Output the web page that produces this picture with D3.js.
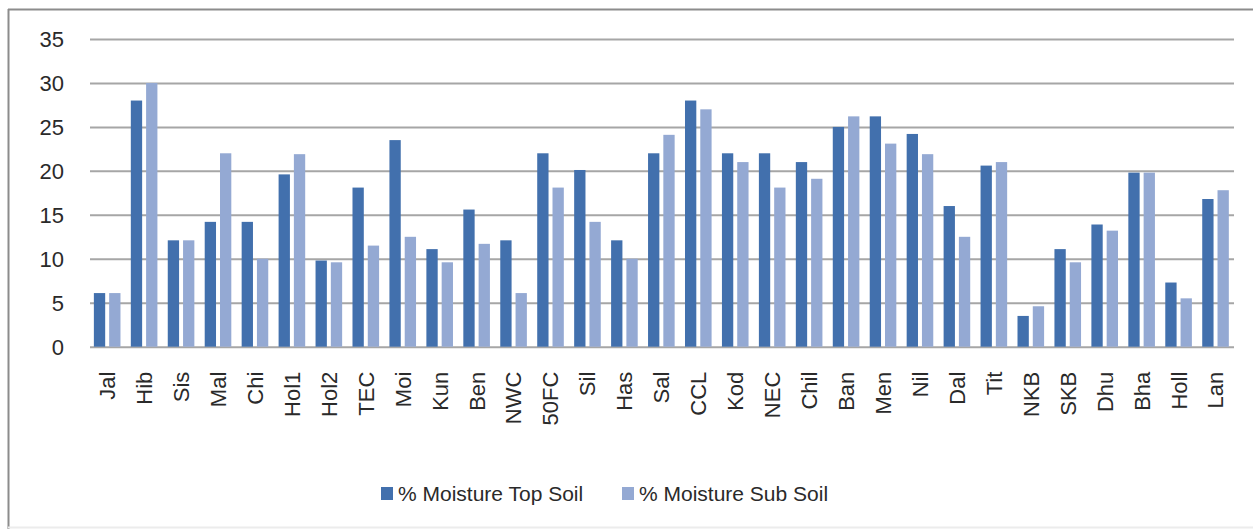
<!DOCTYPE html>
<html>
<head>
<meta charset="utf-8">
<script src="https://cdn.jsdelivr.net/npm/d3@7"></script>
<style>
  html, body { margin: 0; padding: 0; background: #fff; }
  svg { display: block; }
</style>
</head>
<body>
<svg id="chart" width="1253" height="529"></svg>
<script>
// Sampling sites
const sites = ["Jal","Hib","Sis","Mal","Chi","Hol1","Hol2","TEC","Moi","Kun","Ben","NWC","50FC","Sil","Has",
               "Sal","CCL","Kod","NEC","Chil","Ban","Men","Nil","Dal","Tit","NKB","SKB","Dhu","Bha","Holl","Lan"];
// Moisture content (%) of the top soil at each site
const topSoil = [6.1,28,12.1,14.2,14.2,19.6,9.8,18.1,23.5,11.1,15.6,12.1,22,20.1,12.1,
                 22,28,22,22,21,25,26.2,24.2,16,20.6,3.5,11.1,13.9,19.8,7.3,16.8];
// Moisture content (%) of the sub soil at each site
const subSoil = [6.1,30,12.1,22,10,21.9,9.6,11.5,12.5,9.6,11.7,6.1,18.1,14.2,10,
                 24.1,27,21,18.1,19.1,26.2,23.1,21.9,12.5,21,4.6,9.6,13.2,19.8,5.5,17.8];
const seriesNames = ["% Moisture Top Soil", "% Moisture Sub Soil"];
const yTicks = [0,5,10,15,20,25,30,35];

const colors = ["#4270ad", "#94a9d3"];
const font = "'Liberation Sans', Arial, sans-serif";
const textColor = "#2a2a2a";

const svg = d3.select("#chart");

// outer frame (left and top edges, faint bottom)
svg.append("line").attr("x1", 8.5).attr("x2", 8.5).attr("y1", 9).attr("y2", 529)
  .attr("stroke", "#8c8c8c").attr("stroke-width", 2);
svg.append("line").attr("x1", 8).attr("x2", 1253).attr("y1", 9.5).attr("y2", 9.5)
  .attr("stroke", "#8c8c8c").attr("stroke-width", 2);
svg.append("line").attr("x1", 8).attr("x2", 1253).attr("y1", 527.5).attr("y2", 527.5)
  .attr("stroke", "#ececec").attr("stroke-width", 2);

const plot = { left: 88.7, right: 1234, top: 39, bottom: 346.7 };

const x = d3.scaleBand().domain(sites.map((d, i) => i))
  .range([plot.left, plot.right]).paddingInner(0.28).paddingOuter(0.14);
const x1 = d3.scaleBand().domain([0, 1]).range([0, x.bandwidth()]).paddingInner(0.26);
const y = d3.scaleLinear().domain([0, 35]).range([plot.bottom, plot.top]);

// horizontal gridlines + y axis labels
const yAxis = d3.axisLeft(y).tickValues(yTicks).tickSize(-(plot.right - 90)).tickPadding(26);
const gy = svg.append("g").attr("transform", `translate(90,0)`).call(yAxis);
gy.select(".domain").remove();
gy.selectAll(".tick line").attr("stroke", "#a6a6a6").attr("stroke-width", 2);
gy.selectAll(".tick text").attr("font-family", font).attr("font-size", 22)
  .attr("fill", textColor).attr("dy", "0.36em");

// bars
const groups = svg.append("g").selectAll("g").data(sites).join("g")
  .attr("transform", (d, i) => `translate(${x(i)},0)`);
[topSoil, subSoil].forEach((vals, s) => {
  groups.append("rect")
    .attr("x", x1(s))
    .attr("width", x1.bandwidth())
    .attr("y", (d, i) => y(vals[i]))
    .attr("height", (d, i) => y(0) - y(vals[i]))
    .attr("fill", colors[s]);
});

// category labels, rotated
const xAxis = d3.axisBottom(x).tickFormat(i => sites[i]).tickSize(0).tickPadding(0);
const gx = svg.append("g").attr("transform", `translate(0,${plot.bottom})`).call(xAxis);
gx.select(".domain").remove();
gx.selectAll(".tick text")
  .attr("font-family", font).attr("font-size", 22).attr("fill", textColor)
  .attr("text-anchor", "end")
  .attr("transform", "rotate(-90)")
  .attr("x", -25).attr("y", 0).attr("dy", "0.36em");

// legend
const legend = svg.append("g");
const legendX = [381, 622];
seriesNames.forEach((name, s) => {
  legend.append("rect").attr("x", legendX[s]).attr("y", 487).attr("width", 12).attr("height", 13)
    .attr("fill", colors[s]);
  legend.append("text").attr("x", legendX[s] + 17).attr("y", 501)
    .attr("font-family", font).attr("font-size", 21).attr("fill", textColor).text(name);
});
</script>
</body>
</html>
